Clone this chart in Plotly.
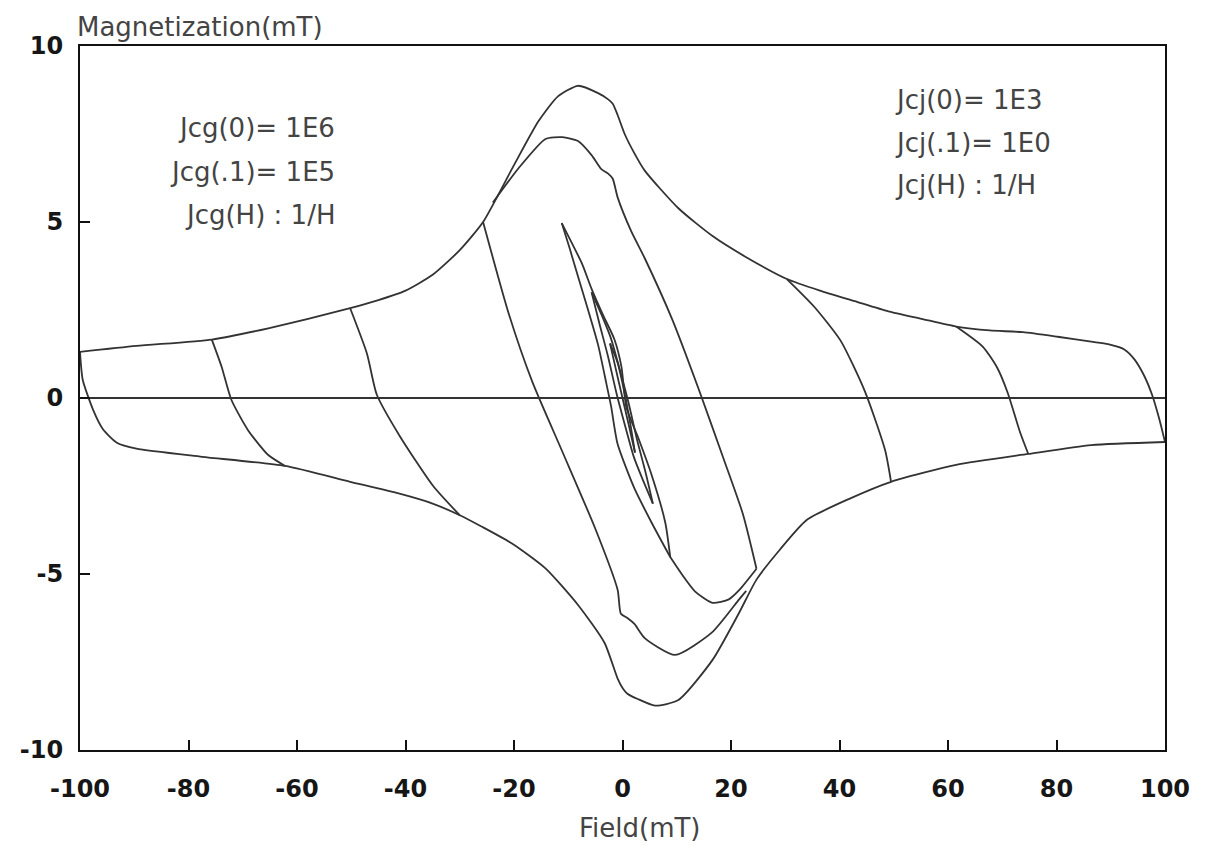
import plotly.graph_objects as go

# ---------------- data (Field H in mT, Magnetization M in mT) ----------------
# Outer loop, decreasing-field branch (+100 -> -100)
H_outer_dec = [100, 98.9, 97.6, 96.3, 94.4, 92.5, 89.5, 86.4, 80.2, 73.8, 67.7, 61.5,
               55.1, 49.0, 42.8, 36.4, 30.3, 22.8, 16.6, 10.3, 4.1, 2.2, 0.4, -0.9,
               -1.8, -2.7, -4.5, -8.2, -11.9, -15.5, -20.3, -25.7, -30.0, -35.0,
               -40.0, -45.0, -50.2, -65.3, -75.7, -89.6, -100]
M_outer_dec = [-1.25, -0.57, 0.1, 0.59, 1.09, 1.38, 1.53, 1.6, 1.74, 1.87, 1.92, 2.03,
               2.25, 2.46, 2.75, 3.05, 3.38, 4.0, 4.6, 5.39, 6.46, 6.95, 7.5, 8.04,
               8.36, 8.49, 8.66, 8.87, 8.57, 7.86, 6.53, 5.0, 4.2, 3.5,
               3.05, 2.78, 2.55, 1.98, 1.66, 1.48, 1.31]

# Outer loop, increasing-field branch (-100 -> +100)
H_outer_inc = [-100, -99.5, -97.6, -95.8, -93.2, -89.6, -77.5, -62.2, -50.2, -41.1,
               -35.0, -30.0, -26.0, -20.3, -14.2, -8.2, -3.3, -0.9, 0.1, 0.9, 2.8,
               6.0, 10.3, 16.6, 21.5, 24.7, 29.0, 34.0, 42.0, 49.5, 61.5, 74.8, 86.4, 100]
M_outer_inc = [1.31, 0.52, -0.33, -0.88, -1.27, -1.44, -1.67, -1.93, -2.38, -2.72,
               -3.0, -3.33, -3.65, -4.14, -4.84, -5.88, -6.96, -7.97, -8.26, -8.4, -8.55,
               -8.74, -8.58, -7.44, -6.1, -5.16, -4.31, -3.46, -2.85, -2.38, -1.90, -1.59,
               -1.34, -1.25]

# Reversal at +75
H_rev_p75 = [74.8, 73.3, 71.0, 69.0, 66.4, 61.5]
M_rev_p75 = [-1.59, -0.98, 0.15, 0.88, 1.46, 2.03]
# Reversal at -75
H_rev_m75 = [-75.7, -73.9, -72.1, -69.0, -65.3, -62.2]
M_rev_m75 = [1.66, 0.89, -0.05, -0.92, -1.62, -1.93]
# Reversal at +50
H_rev_p50 = [49.5, 48.4, 44.7, 40.2, 35.3, 30.3]
M_rev_p50 = [-2.38, -1.48, 0.18, 1.63, 2.6, 3.38]
# Reversal at -50
H_rev_m50 = [-50.2, -47.1, -45.3, -41.1, -34.9, -30.0]
M_rev_m50 = [2.55, 1.26, 0.1, -1.07, -2.5, -3.33]

# +-25 loop: decreasing branch from +25
H_loop25_dec = [24.7, 22.2, 18.5, 14.0, 9.2, 4.1, 1.6, -0.9, -1.8, -2.7, -3.9, -5.7,
                -8.2, -11.1, -14.2, -19.2, -23.9]
M_loop25_dec = [-4.85, -3.30, -1.67, 0.27, 2.22, 3.97, 4.74, 5.7, 6.23, 6.38, 6.5, 6.9,
                7.3, 7.41, 7.36, 6.52, 5.55]
# +-25 loop: increasing branch from -25
H_loop25_inc = [-25.7, -21.0, -16.6, -11.1, -5.1, -0.9, -0.3, 0.9, 2.2, 4.1, 9.7,
                16.5, 21.5, 22.8]
M_loop25_inc = [5.0, 2.41, 0.45, -1.52, -3.68, -5.45, -6.13, -6.25, -6.42, -6.82, -7.3,
                -6.66, -5.72, -5.48]

# Path from the inner loops out to +25
H_path_p25 = [8.8, 10.9, 13.4, 16.6, 19.6, 21.5, 24.7]
M_path_p25 = [-4.52, -5.0, -5.5, -5.82, -5.72, -5.46, -4.85]

# Inner loop ~+-12
H_in12_inc = [-11.2, -9.7, -8.2, -6.3, -4.5, -3.0, -2.1, -0.9, 2.2, 5.4, 8.8]
M_in12_inc = [4.97, 4.23, 3.45, 2.48, 1.51, 0.43, -0.24, -1.31, -2.57, -3.55, -4.52]
H_in12_dec = [8.8, 7.9, 5.4, 2.9, 0.7, -0.2, -1.5, -3.6, -5.7, -7.5, -9.4, -11.2]
M_in12_dec = [-4.52, -3.55, -2.2, -1.13, -0.26, 0.89, 1.67, 2.36, 3.1, 3.83, 4.42, 4.97]

# Inner loop ~+-6
H_in6_inc = [-5.7, -4.2, -2.7, -1.1, 0.5, 2.1, 3.6, 5.6]
M_in6_inc = [3.0, 2.08, 1.2, 0.13, -0.8, -1.68, -2.27, -3.0]
H_in6_dec = [5.6, 4.2, 2.7, 1.1, -0.5, -2.1, -3.6, -5.7]
M_in6_dec = [-3.0, -2.08, -1.2, -0.13, 0.8, 1.68, 2.27, 3.0]

# Inner loop ~+-3
H_in3_inc = [-2.3, -1.2, 0.0, 1.2, 2.3]
M_in3_inc = [1.55, 0.8, 0.0, -0.8, -1.55]
H_in3_dec = [2.3, 1.4, 0.3, -0.9, -2.3]
M_in3_dec = [-1.55, -0.7, 0.2, 1.0, 1.55]

x_ticks = [-100, -80, -60, -40, -20, 0, 20, 40, 60, 80, 100]
y_ticks = [-10, -5, 0, 5, 10]

left_notes = ["Jcg(0)= 1E6", "Jcg(.1)= 1E5", "Jcg(H) : 1/H"]
right_notes = ["Jcj(0)= 1E3", "Jcj(.1)= 1E0", "Jcj(H) : 1/H"]

# ---------------- figure ----------------
LINE = "#333333"
segments = [
    (H_outer_dec, M_outer_dec), (H_outer_inc, M_outer_inc),
    (H_rev_p75, M_rev_p75), (H_rev_m75, M_rev_m75),
    (H_rev_p50, M_rev_p50), (H_rev_m50, M_rev_m50),
    (H_loop25_dec, M_loop25_dec), (H_loop25_inc, M_loop25_inc),
    (H_path_p25, M_path_p25),
    (H_in12_inc, M_in12_inc), (H_in12_dec, M_in12_dec),
    (H_in6_inc, M_in6_inc), (H_in6_dec, M_in6_dec),
    (H_in3_inc, M_in3_inc), (H_in3_dec, M_in3_dec),
]

fig = go.Figure()
for h, m in segments:
    fig.add_trace(go.Scatter(
        x=h, y=m, mode="lines",
        line=dict(color=LINE, width=1.8, shape="spline", smoothing=0.6),
        showlegend=False, hoverinfo="skip"))

TICKFONT = dict(family="DejaVu Sans, Liberation Sans, sans-serif", size=24, color="#161616", weight="bold")
TEXTFONT = dict(family="DejaVu Sans, Liberation Sans, sans-serif", size=26, color="#444444")

fig.update_layout(
    width=1205, height=846,
    margin=dict(l=80, r=40, t=46, b=96),
    paper_bgcolor="white", plot_bgcolor="white",
    showlegend=False,
    xaxis=dict(range=[-100, 100], tickvals=x_ticks, ticktext=[str(v) for v in x_ticks],
               ticks="inside", ticklen=10, tickwidth=2, tickcolor="#111",
               showline=True, linecolor="#111", linewidth=2, mirror=True,
               showgrid=False, zeroline=False, tickfont=TICKFONT, ticklabelstandoff=16),
    yaxis=dict(range=[-10, 10], tickvals=y_ticks, ticktext=[str(v) for v in y_ticks],
               ticks="inside", ticklen=10, tickwidth=2, tickcolor="#111",
               showline=True, linecolor="#111", linewidth=2, mirror=True,
               showgrid=False, zeroline=True, zerolinecolor=LINE, zerolinewidth=1.8,
               tickfont=TICKFONT, ticklabelstandoff=10),
)

annotations = [
    dict(text="Magnetization(mT)", x=-0.005, y=1.003, xref="paper", yref="paper",
         xanchor="left", yanchor="bottom", showarrow=False, font=TEXTFONT),
    dict(text="Field(mT)", x=0.516, y=-0.111, xref="paper", yref="paper",
         xanchor="center", yanchor="middle", showarrow=False, font=TEXTFONT),
]
left_y = [0.8835, 0.821, 0.760]
right_y = [0.9233, 0.862, 0.8026]
for t, yy in zip(left_notes, left_y):
    annotations.append(dict(text=t, x=0.237, y=yy, xref="paper", yref="paper",
                            xanchor="right", yanchor="middle", showarrow=False, font=TEXTFONT))
for t, yy in zip(right_notes, right_y):
    annotations.append(dict(text=t, x=0.749, y=yy, xref="paper", yref="paper",
                            xanchor="left", yanchor="middle", showarrow=False, font=TEXTFONT))
fig.update_layout(annotations=annotations)

fig.write_html("out.html")
